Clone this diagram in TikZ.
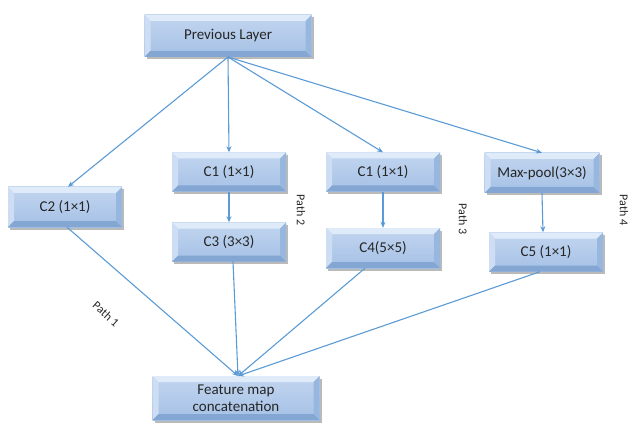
\documentclass[tikz,border=0pt]{standalone}
\usepackage{fontspec}
\setmainfont{Carlito}
\usetikzlibrary{arrows.meta,shadows}
\definecolor{faceA}{RGB}{194,213,239}
\definecolor{faceB}{RGB}{165,193,230}
\definecolor{bevtop}{RGB}{224,235,249}
\definecolor{bevleft}{RGB}{205,222,244}
\definecolor{bevbot}{RGB}{132,166,210}
\definecolor{bevright}{RGB}{152,183,222}
\definecolor{linkblue}{RGB}{91,155,213}
\tikzset{
  bevelnode/.style={rectangle, inner sep=2pt, align=center,
    font=\fontsize{15}{16}\selectfont, text=black!85,
    top color=faceA, bottom color=faceB,
    drop shadow={shadow xshift=2pt, shadow yshift=-2.5pt, fill=black!45, opacity=0.6},
    path picture={
      \coordinate (nw) at (path picture bounding box.north west);
      \coordinate (ne) at (path picture bounding box.north east);
      \coordinate (sw) at (path picture bounding box.south west);
      \coordinate (se) at (path picture bounding box.south east);
      \fill[bevtop] (nw) -- (ne) -- ([xshift=-6pt,yshift=-6pt]ne) -- ([xshift=6pt,yshift=-6pt]nw) -- cycle;
      \fill[bevleft] (nw) -- (sw) -- ([xshift=6pt,yshift=6pt]sw) -- ([xshift=6pt,yshift=-6pt]nw) -- cycle;
      \fill[bevbot] (sw) -- (se) -- ([xshift=-6pt,yshift=6pt]se) -- ([xshift=6pt,yshift=6pt]sw) -- cycle;
      \fill[bevright] (ne) -- (se) -- ([xshift=-6pt,yshift=6pt]se) -- ([xshift=-6pt,yshift=-6pt]ne) -- cycle;
    }},
  link/.style={draw=linkblue, line width=1.1pt, -{Stealth[length=6pt,width=5pt]}},
  pathlabel/.style={font=\fontsize{12}{14}\selectfont, text=black!85}
}
\begin{document}
\begin{tikzpicture}[x=1pt,y=-1pt]
\useasboundingbox (0,0) rectangle (635,425);

\node[bevelnode, minimum width=167pt, minimum height=42pt] (prev) at (228,36) {Previous Layer};
\node[bevelnode, minimum width=114pt, minimum height=40pt] (c2) at (65,207) {C2 (1×1)};
\node[bevelnode, minimum width=114pt, minimum height=39pt] (c1a) at (229,172) {C1 (1×1)};
\node[bevelnode, minimum width=114pt, minimum height=39pt] (c3) at (229,242) {C3 (3×3)};
\node[bevelnode, minimum width=114pt, minimum height=39pt] (c1b) at (383,172) {C1 (1×1)};
\node[bevelnode, minimum width=114pt, minimum height=40pt] (c4) at (383,248) {C4(5×5)};
\node[bevelnode, minimum width=115pt, minimum height=40pt] (mp) at (542,173) {Max-pool(3×3)};
\node[bevelnode, minimum width=114pt, minimum height=39pt] (c5) at (546,252) {C5 (1×1)};
\node[bevelnode, minimum width=167pt, minimum height=44pt] (fm) at (236,398) {Feature map\\[1pt]concatenation};

\coordinate (src) at (228,57);
\draw[link] (src) -- ([xshift=3pt]c2.north);
\draw[link] (src) -- (c1a.north);
\draw[link] (src) -- (c1b.north);
\draw[link] (src) -- (mp.north);

\draw[link] (c1a.south) -- (c3.north);
\draw[link] (c1b.south) -- (c4.north);
\draw[link] (mp.south) -- ([xshift=-3pt]c5.north);

\coordinate (fmin) at (238,376);
\draw[link] ([xshift=2pt]c2.south) -- (fmin);
\draw[link] ([xshift=4pt]c3.south) -- (fmin);
\draw[link] ([xshift=-18pt]c4.south) -- (fmin);
\draw[link] ([xshift=-6pt]c5.south) -- (fmin);

\node[pathlabel, rotate=-42, inner sep=0pt] (p1) at (106,314) {Path 1};
\node[pathlabel, rotate=-90] (p2) at (301,210) {Path 2};
\node[pathlabel, rotate=-90] (p3) at (463,219) {Path 3};
\node[pathlabel, rotate=-90] (p4) at (624,210) {Path 4};
\end{tikzpicture}
\end{document}
